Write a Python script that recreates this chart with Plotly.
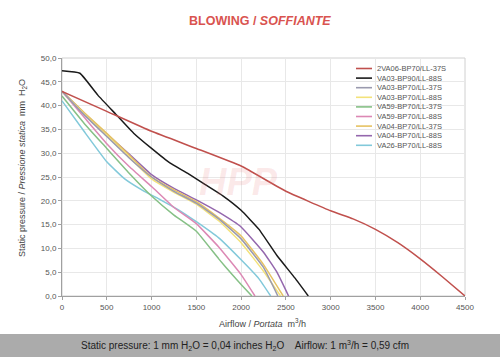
import plotly.graph_objects as go

# ---------------- data ----------------
series_names = [
    "2VA06-BP70/LL-37S", "VA03-BP90/LL-88S", "VA03-BP70/LL-37S", "VA03-BP70/LL-88S",
    "VA59-BP70/LL-37S", "VA59-BP70/LL-88S", "VA04-BP70/LL-37S", "VA04-BP70/LL-88S",
    "VA26-BP70/LL-88S",
]
series_colors = [
    "#c0504d", "#1a1a1a", "#9a9aae", "#f3e27a",
    "#86c086", "#dc88b4", "#e6c262", "#9467ad",
    "#82c9da",
]

x_2va06 = [0, 500, 1000, 1500, 2000, 2500, 3000, 3250, 3500, 3750, 4000, 4250, 4500]
y_2va06 = [43.0, 38.8, 34.6, 31.0, 27.3, 22.0, 17.9, 16.2, 14.0, 11.2, 7.8, 4.0, 0.0]

x_va03_90_88 = [0, 200, 400, 600, 800, 1000, 1200, 1400, 1600, 1800, 2000, 2200, 2400, 2600, 2750]
y_va03_90_88 = [47.3, 46.8, 42.2, 38.2, 34.2, 31.0, 28.0, 25.8, 23.4, 21.0, 18.0, 14.0, 8.5, 3.8, 0.0]

x_va03_37 = [0, 250, 500, 750, 1000, 1250, 1500, 1750, 2000, 2250, 2410]
y_va03_37 = [43.0, 38.0, 33.5, 29.0, 25.0, 22.0, 19.5, 16.2, 12.0, 6.0, 0.0]

x_va03_88 = [0, 250, 500, 750, 1000, 1250, 1500, 1750, 2000, 2250, 2440]
y_va03_88 = [43.0, 38.2, 33.8, 29.2, 24.6, 21.8, 19.3, 15.8, 11.2, 5.2, 0.0]

x_va59_37 = [0, 250, 500, 750, 1000, 1250, 1500, 1750, 1900, 2000, 2120]
y_va59_37 = [42.0, 36.2, 31.0, 25.8, 21.0, 17.0, 13.6, 7.8, 4.5, 2.4, 0.0]

x_va59_88 = [0, 250, 500, 750, 1000, 1250, 1500, 1750, 2000, 2155]
y_va59_88 = [43.0, 37.5, 32.0, 27.2, 23.0, 18.6, 15.2, 10.3, 4.5, 0.0]

x_va04_37 = [0, 250, 500, 750, 1000, 1250, 1500, 1750, 2000, 2250, 2470]
y_va04_37 = [43.0, 38.5, 34.2, 29.6, 25.0, 22.3, 19.8, 16.4, 12.6, 6.6, 0.0]

x_va04_88 = [0, 250, 500, 750, 1000, 1250, 1500, 1750, 2000, 2250, 2400, 2530]
y_va04_88 = [43.0, 38.4, 34.0, 29.8, 25.5, 22.6, 20.2, 17.6, 14.5, 9.2, 5.0, 0.0]

x_va26_88 = [0, 250, 500, 700, 900, 1100, 1300, 1500, 1750, 2000, 2200, 2330]
y_va26_88 = [41.0, 34.5, 28.2, 24.6, 22.2, 20.2, 18.1, 15.6, 12.2, 7.6, 3.6, 0.0]

series_x = [x_2va06, x_va03_90_88, x_va03_37, x_va03_88, x_va59_37,
            x_va59_88, x_va04_37, x_va04_88, x_va26_88]
series_y = [y_2va06, y_va03_90_88, y_va03_37, y_va03_88, y_va59_37,
            y_va59_88, y_va04_37, y_va04_88, y_va26_88]

x_tick_vals = [0, 500, 1000, 1500, 2000, 2500, 3000, 3500, 4000, 4500]
x_tick_text = ["0", "500", "1000", "1500", "2000", "2500", "3000", "3500", "4000", "4500"]
y_tick_vals = [0, 5, 10, 15, 20, 25, 30, 35, 40, 45, 50]
y_tick_text = ["0,0", "5,0", "10,0", "15,0", "20,0", "25,0", "30,0", "35,0", "40,0", "45,0", "50,0"]

# ---------------- figure ----------------
W, H = 500, 357
ML, MR, MT, MB = 62, 35, 58, 61
PW, PH = W - ML - MR, H - MT - MB

def px_to_paper_x(px):
    return (px - ML) / PW

def px_to_paper_y(py):
    return (H - MB - py) / PH

SANS = "Liberation Sans, Arial, sans-serif"

fig = go.Figure()
order = [8, 7, 6, 5, 4, 3, 2, 1, 0]
for i in order:
    fig.add_trace(go.Scatter(
        x=series_x[i], y=series_y[i], mode="lines", name=series_names[i],
        line=dict(color=series_colors[i], width=1.5, shape="spline", smoothing=0.35),
        showlegend=False, hoverinfo="x+y+name",
    ))

shapes = []
annotations = []

# faint watermark
annotations.append(dict(
    text="<b><i>HPP</i></b>", x=px_to_paper_x(238), y=px_to_paper_y(182),
    xref="paper", yref="paper", showarrow=False,
    font=dict(family=SANS, size=38, color="rgba(230,120,120,0.16)"),
))

# compact legend built from the series lists
leg_x0, leg_x1, leg_tx = 356, 372, 375
leg_y0, leg_dy = 68.5, 9.6
for k, (nm, col) in enumerate(zip(series_names, series_colors)):
    yy = px_to_paper_y(leg_y0 + k * leg_dy)
    shapes.append(dict(type="line", xref="paper", yref="paper",
                       x0=px_to_paper_x(leg_x0), x1=px_to_paper_x(leg_x1), y0=yy, y1=yy,
                       line=dict(color=col, width=1.6)))
    annotations.append(dict(text=nm, x=px_to_paper_x(leg_tx), y=yy, xref="paper", yref="paper",
                            xanchor="left", yanchor="middle", showarrow=False,
                            font=dict(family=SANS, size=7.5, color="#555555")))

# bottom grey band
shapes.append(dict(type="rect", xref="paper", yref="paper", layer="below",
                   x0=px_to_paper_x(0), x1=px_to_paper_x(W), y0=px_to_paper_y(H), y1=px_to_paper_y(334),
                   fillcolor="#ababab", line=dict(width=0)))
annotations.append(dict(
    text="Static pressure: 1 mm H<sub>2</sub>O = 0,04 inches H<sub>2</sub>O    Airflow: 1 m<sup>3</sup>/h = 0,59 cfm",
    x=px_to_paper_x(245), y=px_to_paper_y(345.5), xref="paper", yref="paper",
    xanchor="center", yanchor="middle", showarrow=False,
    font=dict(family=SANS, size=10, color="#222222")))

# axis titles
annotations.append(dict(
    text="Static pressure / <i>Pressione statica</i>  mm  H<sub>2</sub>O",
    x=px_to_paper_x(22), y=px_to_paper_y(168), xref="paper", yref="paper",
    textangle=-90, showarrow=False, xanchor="center", yanchor="middle",
    font=dict(family=SANS, size=9, color="#444444")))
annotations.append(dict(
    text="Airflow / <i>Portata</i>  m<sup>3</sup>/h",
    x=px_to_paper_x(262), y=px_to_paper_y(323), xref="paper", yref="paper",
    showarrow=False, xanchor="center", yanchor="middle",
    font=dict(family=SANS, size=9, color="#444444")))

# title
annotations.append(dict(
    text="<b>BLOWING / <i>SOFFIANTE</i></b>",
    x=px_to_paper_x(260), y=px_to_paper_y(21), xref="paper", yref="paper",
    showarrow=False, xanchor="center", yanchor="middle",
    font=dict(family=SANS, size=12.5, color="#d9534f")))

# light frame
shapes.append(dict(type="rect", xref="paper", yref="paper", x0=0, x1=1, y0=0, y1=1,
                   line=dict(color="#d0d0d0", width=1), layer="below"))

fig.update_layout(
    width=W, height=H, autosize=False,
    margin=dict(l=ML, r=MR, t=MT, b=MB, pad=0),
    paper_bgcolor="white", plot_bgcolor="white",
    showlegend=False,
    shapes=shapes, annotations=annotations,
    xaxis=dict(range=[0, 4500], tickvals=x_tick_vals, ticktext=x_tick_text,
               showgrid=True, gridcolor="#e8e8e8", gridwidth=1,
               showline=True, linecolor="#a0a0a0", linewidth=1,
               ticks="outside", ticklen=3, tickcolor="#a0a0a0",
               tickfont=dict(family=SANS, size=8, color="#555555"), zeroline=False),
    yaxis=dict(range=[0, 50], tickvals=y_tick_vals, ticktext=y_tick_text,
               showgrid=True, gridcolor="#e8e8e8", gridwidth=1,
               showline=True, linecolor="#a0a0a0", linewidth=1,
               ticks="outside", ticklen=3, tickcolor="#a0a0a0",
               tickfont=dict(family=SANS, size=8, color="#555555"), zeroline=False),
)

fig.write_html("out.html", config={"displayModeBar": False},
               post_script="document.body.style.margin='0px';document.body.style.overflow='hidden';")
